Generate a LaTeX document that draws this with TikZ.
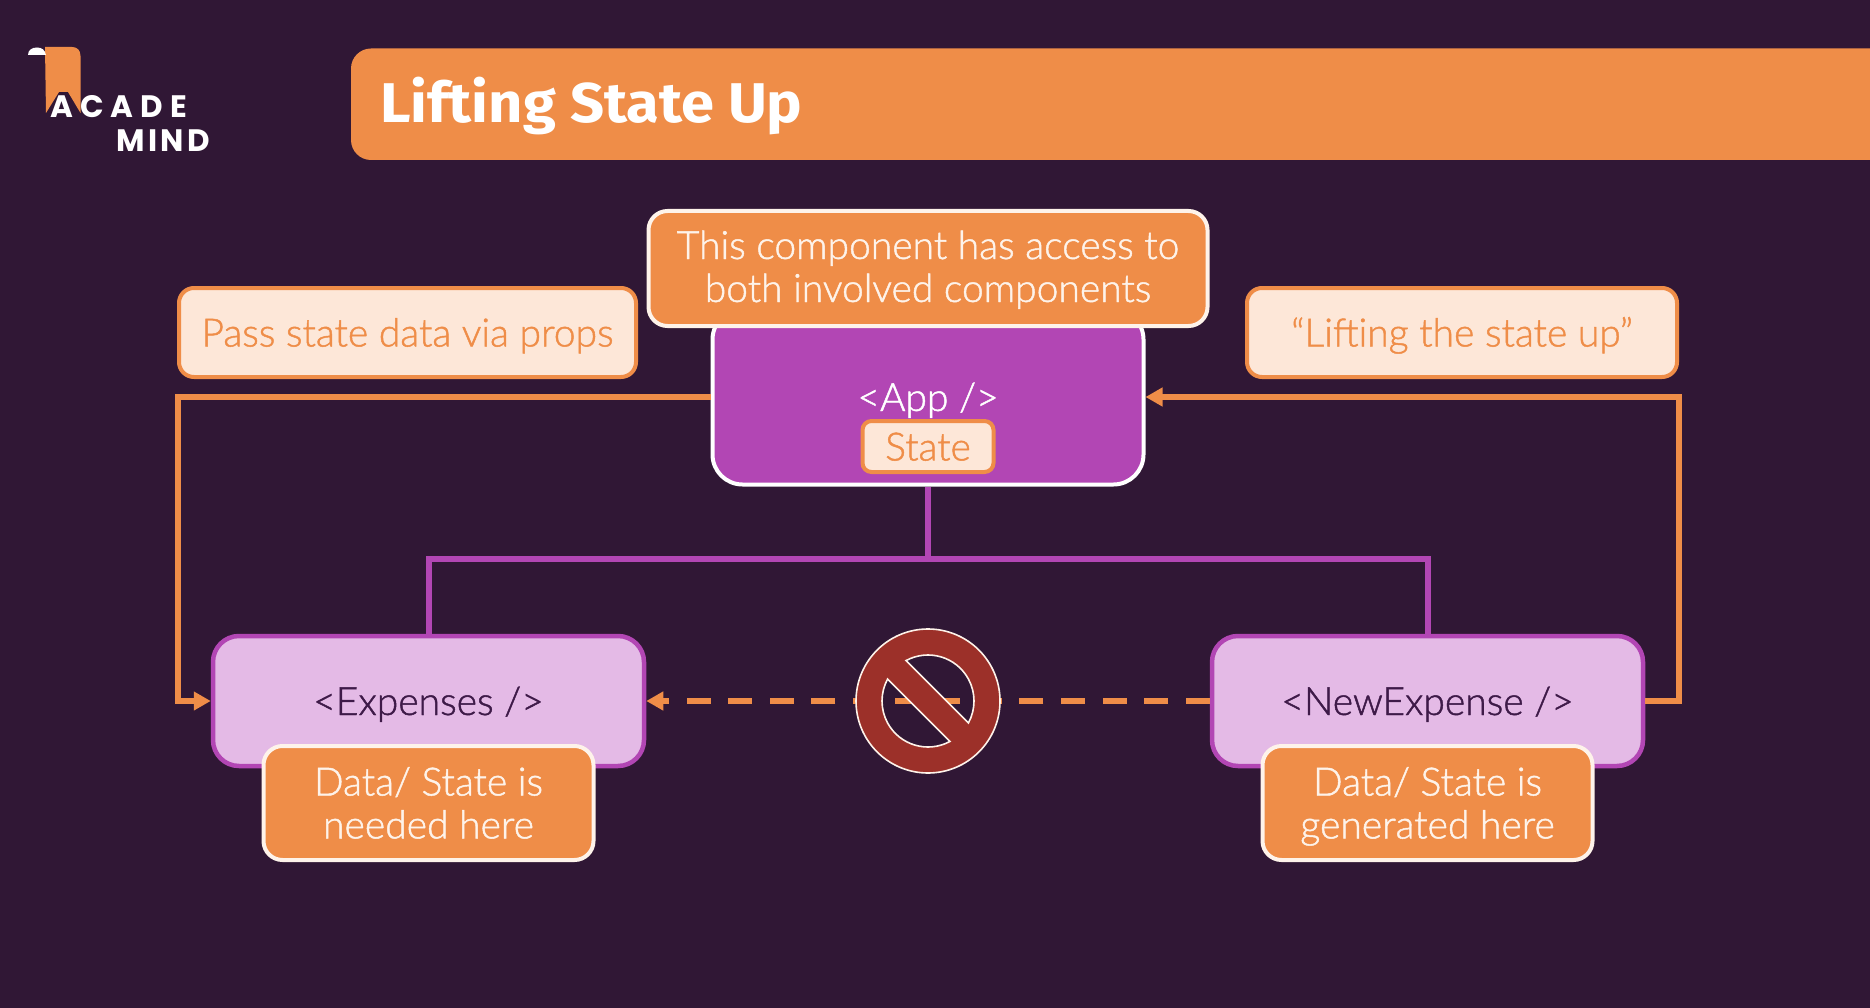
\documentclass[tikz,border=0pt]{standalone}
\usepackage{fontspec}
\setmainfont{Lato Light}[RawFeature={embolden=1.2}]
\newfontfamily\titlefont[FakeStretch=1.065]{Fira Sans}
\newfontfamily\logofonta[LetterSpace=23]{Poppins}
\newfontfamily\logofontb[LetterSpace=11]{Poppins}
\definecolor{bgc}{HTML}{301735}
\definecolor{orangec}{HTML}{EF8D48}
\definecolor{purplec}{HTML}{B246B4}
\definecolor{lilac}{HTML}{E4BAE6}
\definecolor{pale}{HTML}{FDE7D8}
\definecolor{cream}{HTML}{FEF3EA}
\definecolor{darktext}{HTML}{3E1A48}
\definecolor{stopred}{HTML}{9C3029}
\usetikzlibrary{arrows.meta}
\newcommand{\linestrut}{\rule[-10pt]{0pt}{48pt}}
\newcommand{\accessstrut}{\rule[-10pt]{0pt}{44pt}}
\lineskiplimit=-100pt\relax
\tikzset{
  bodytext/.style={font=\fontsize{39}{43}\selectfont,align=center,inner sep=0pt},
  callout/.style={bodytext,draw=cream,fill=orangec,text=cream,line width=4pt,rounded corners=19pt},
  hintbox/.style={bodytext,draw=orangec,fill=pale,text=orangec,line width=4pt,rounded corners=15pt},
  childbox/.style={bodytext,draw=purplec,fill=lilac,text=darktext,line width=4.5pt,rounded corners=26pt,minimum width=431pt,minimum height=130pt},
  flow/.style={draw=orangec,line width=6pt},
  tree/.style={draw=purplec,line width=6pt},
  tip/.style={-{Triangle[length=17pt,width=18pt]}},
}
\begin{document}
\begin{tikzpicture}[x=1pt,y=1pt,yscale=-1]
\fill[bgc] (0,0) rectangle (1870,1008);
\useasboundingbox (0,0) rectangle (1870,1008);
% logo
\fill[orangec] (45,47) -- (72,47) .. controls (77,47) and (80.5,50) .. (80.5,56) -- (80.5,113) -- (68,92) -- (59,92) -- (46,113) -- cycle;
\fill[white] (28,55) .. controls (28,50) and (32,47.5) .. (37,47.5) .. controls (42,47.5) and (45,50) .. (46,55) -- cycle;
\node[font=\logofonta\bfseries\fontsize{31}{31}\selectfont,text=white,anchor=base west,inner sep=0pt] (logoa) at (50,117.5) {ACADE};
\node[font=\logofontb\bfseries\fontsize{31}{31}\selectfont,text=white,anchor=base west,inner sep=0pt] (logob) at (116,151.5) {MIND};
% title bar
\fill[orangec,rounded corners=20pt] (351,48.5) -- (1900,48.5) -- (1900,160) -- (351,160) -- cycle;
\node[font=\titlefont\bfseries\fontsize{56}{56}\selectfont,text=white,anchor=base west,inner sep=0pt] (title) at (380,123) {Lifting State Up};
% main boxes
\node[draw=white,fill=purplec,text=white,bodytext,line width=4pt,rounded corners=30pt,minimum width=431pt,minimum height=175pt] (app) at (928,397) {\linestrut<App />};
\node[hintbox,rounded corners=9pt,minimum width=131pt,minimum height=51pt] (state) at (928,446.5) {\linestrut State};
\node[callout,minimum width=559pt,minimum height=115pt] (access) at (928,268.5) {\accessstrut This component has access to\\\accessstrut both involved components};
\node[hintbox,minimum width=457pt,minimum height=89pt] (pass) at (407.5,332.5) {\linestrut Pass state data via props};
\node[hintbox,minimum width=430pt,minimum height=89pt] (lifting) at (1462,332.5) {\linestrut “Lifting the state up”};
\node[childbox] (exp) at (428.5,701) {\linestrut<Expenses />};
\node[childbox] (newexp) at (1427.5,701) {\linestrut<NewExpense />};
\node[callout,minimum width=330pt,minimum height=114pt] (need) at (428.5,803) {\linestrut Data/ State is\\\linestrut needed here};
\node[callout,minimum width=330pt,minimum height=114pt] (gen) at (1427.5,803) {\linestrut Data/ State is\\\linestrut generated here};
% connectors
\coordinate (bus) at (928,559);
\coordinate (lcorner) at (178,701);
\coordinate (rcorner) at (1679,397);
\draw[tree] (app.south) -- (bus);
\draw[tree] (exp.north) |- (bus) -| (newexp.north);
\draw[flow,tip] (app.west) -| (lcorner) -- (exp.west);
\draw[flow,tip] (newexp.east) -| (rcorner) -- (app.east);
\draw[flow,tip,dash pattern=on 24pt off 17.6pt] (newexp.west) -- (exp.east);
% prohibition sign
\coordinate (stop) at (928,701);
\fill[stopred,draw=cream,line width=1.6pt,even odd rule]
  (stop) circle[radius=72]
  (stop) ++(-118.5:46) arc[start angle=-118.5,end angle=28.5,radius=46] -- cycle
  (stop) ++(61.5:46) arc[start angle=61.5,end angle=208.5,radius=46] -- cycle;
\end{tikzpicture}
\end{document}
